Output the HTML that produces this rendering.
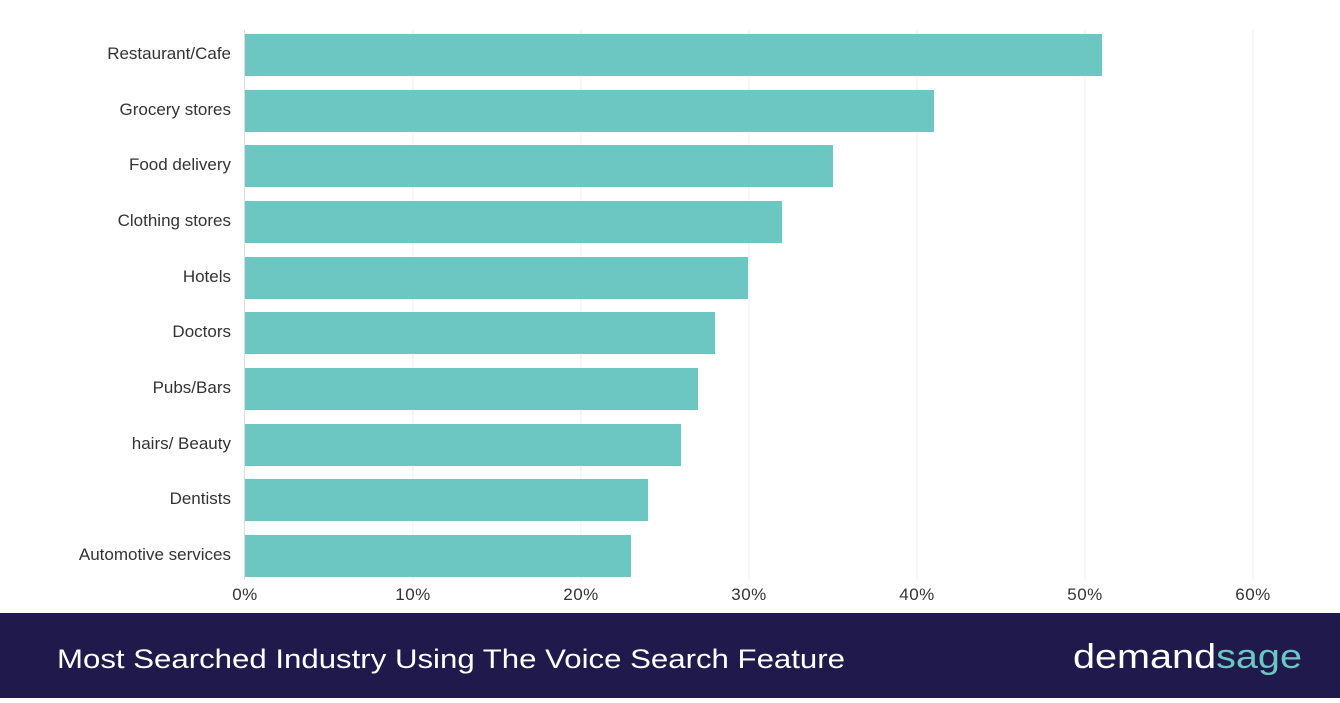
<!DOCTYPE html>
<html><head><style>
body{margin:0;width:1340px;height:698px;background:#fff;overflow:hidden;font-family:"Liberation Sans",sans-serif}
</style></head><body>
<svg width="1340" height="698" xmlns="http://www.w3.org/2000/svg" font-family="Liberation Sans, sans-serif">
<g stroke="#ececec" stroke-width="1">
<line x1="413" y1="30" x2="413" y2="580"/><line x1="581" y1="30" x2="581" y2="580"/>
<line x1="749" y1="30" x2="749" y2="580"/><line x1="917" y1="30" x2="917" y2="580"/>
<line x1="1085" y1="30" x2="1085" y2="580"/><line x1="1253" y1="30" x2="1253" y2="580"/>
</g>
<line x1="244.5" y1="30" x2="244.5" y2="580" stroke="#ddd"/>
<g fill="#6cc6c2">
<rect x="245" y="34" width="857" height="42"/>
<rect x="245" y="90" width="689" height="42"/>
<rect x="245" y="145" width="588" height="42"/>
<rect x="245" y="201" width="537" height="42"/>
<rect x="245" y="257" width="503" height="42"/>
<rect x="245" y="312" width="470" height="42"/>
<rect x="245" y="368" width="453" height="42"/>
<rect x="245" y="424" width="436" height="42"/>
<rect x="245" y="479" width="403" height="42"/>
<rect x="245" y="535" width="386" height="42"/>
</g>
<g font-size="17" fill="#333" text-anchor="end">
<text x="231" y="59">Restaurant/Cafe</text>
<text x="231" y="115">Grocery stores</text>
<text x="231" y="170">Food delivery</text>
<text x="231" y="226">Clothing stores</text>
<text x="231" y="282">Hotels</text>
<text x="231" y="337">Doctors</text>
<text x="231" y="393">Pubs/Bars</text>
<text x="231" y="449">hairs/ Beauty</text>
<text x="231" y="504">Dentists</text>
<text x="231" y="560">Automotive services</text>
</g>
<g font-size="17" fill="#333" text-anchor="middle" letter-spacing="0.5">
<text x="245" y="600">0%</text><text x="413" y="600">10%</text><text x="581" y="600">20%</text>
<text x="749" y="600">30%</text><text x="917" y="600">40%</text><text x="1085" y="600">50%</text>
<text x="1253" y="600">60%</text>
</g>
<rect x="0" y="613" width="1340" height="85" fill="#1f1a4b"/>
<text x="57" y="668" font-size="27" fill="#fff" textLength="788" lengthAdjust="spacingAndGlyphs">Most Searched Industry Using The Voice Search Feature</text>
<text x="1073" y="668" font-size="34" fill="#fff" textLength="229" lengthAdjust="spacingAndGlyphs">demand<tspan fill="#6cc6c2">sage</tspan></text>
</svg>
</body></html>
